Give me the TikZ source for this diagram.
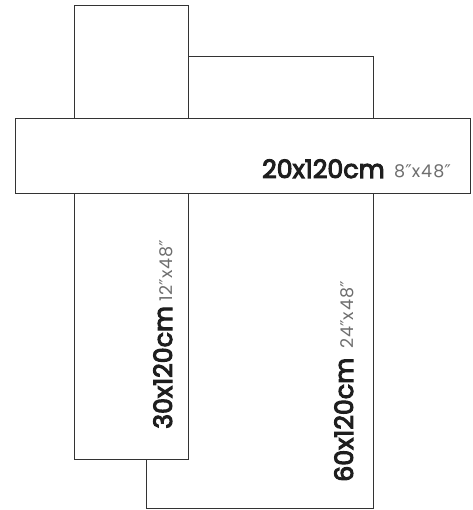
\documentclass[tikz,border=0pt]{standalone}
\usepackage{fontspec}
\setmainfont{Poppins}
\newfontfamily\semibf{Poppins}[FakeBold=4]
\newfontfamily\lightf{Poppins}[LetterSpace=6]
\newfontfamily\primef{DejaVu Sans}
\newcommand{\inch}{{\primef ″}}
\definecolor{edge}{HTML}{333333}
\definecolor{dark}{HTML}{1E1E1E}
\definecolor{soft}{HTML}{6E6E6E}
\begin{document}
\begin{tikzpicture}[x=1pt,y=-1pt,
  panel/.style={draw=edge,line width=0.9pt,fill=white},
  sizelbl/.style={inner sep=0pt,text=dark,font=\semibf\fontsize{25.3}{28}\selectfont},
  inchlbl/.style={inner sep=0pt,text=soft,font=\lightf\fontsize{17.5}{19}\selectfont}]
\useasboundingbox (0,0) rectangle (472,510);
% back panel 60x120
\draw[panel] (146,56) rectangle (373,508.5);
% panel 30x120
\draw[panel] (74,5) rectangle (188,459);
% front panel 20x120
\draw[panel] (15,118) rectangle (470,193);
% labels
\node[sizelbl,anchor=base west] (l20) at (262,178) {20x120cm};
\node[inchlbl,anchor=base west] (i20) at (394,178) {8\inch x48\inch};
\node[sizelbl,anchor=base west,rotate=90] (l30) at (172,429) {30x120cm};
\node[inchlbl,anchor=base west,rotate=90] (i30) at (172,302) {12\inch x48\inch};
\node[sizelbl,anchor=base west,rotate=90] (l60) at (353,482) {60x120cm};
\node[inchlbl,anchor=base west,rotate=90] (i60) at (353,349) {24\inch x48\inch};
\end{tikzpicture}
\end{document}
